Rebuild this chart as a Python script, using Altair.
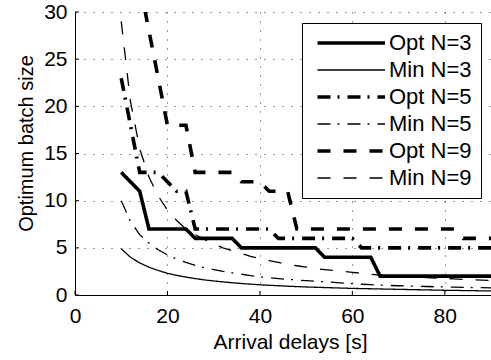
import altair as alt
import pandas as pd

# x positions (arrival delay, s)
delays = [10, 12, 14, 16, 18, 20, 22, 24, 26, 28, 30, 32, 34, 36, 38, 40, 42, 44, 46, 48, 50,
          52, 54, 56, 58, 60, 62, 64, 66, 68, 70, 72, 74, 76, 78, 80, 82, 84, 86, 88, 90]
delays_opt9 = delays[2:]

opt_n3 = [13, 12, 11, 7, 7, 7, 7, 7, 6, 6, 6, 6, 6, 5, 5, 5, 5, 5, 5, 5, 5,
          5, 4, 4, 4, 4, 4, 4, 2, 2, 2, 2, 2, 2, 2, 2, 2, 2, 2, 2, 2]
min_n3 = [4.9, 4.0, 3.4, 2.95, 2.6, 2.3, 2.08, 1.9, 1.74, 1.6, 1.49, 1.39, 1.3, 1.22, 1.15, 1.08,
          1.03, 0.98, 0.93, 0.89, 0.85, 0.82, 0.79, 0.76, 0.73, 0.7, 0.68, 0.66, 0.64, 0.62, 0.6,
          0.58, 0.56, 0.54, 0.52, 0.5, 0.49, 0.47, 0.46, 0.44, 0.43]
opt_n5 = [23, 18, 13, 13, 13, 12, 11, 11, 7, 7, 7, 7, 7, 7, 7, 7, 7, 6, 6, 6, 6,
          6, 6, 6, 6, 6, 5, 5, 5, 5, 5, 5, 5, 5, 5, 5, 5, 5, 5, 5, 5]
min_n5 = [10.0, 7.8, 6.4, 5.5, 4.8, 4.25, 3.8, 3.45, 3.15, 2.9, 2.7, 2.5, 2.35, 2.2, 2.05, 1.93,
          1.83, 1.74, 1.66, 1.59, 1.52, 1.46, 1.4, 1.34, 1.26, 1.2, 1.14, 1.09, 1.05, 1.01, 0.98,
          0.95, 0.92, 0.9, 0.87, 0.85, 0.83, 0.81, 0.79, 0.78, 0.76]
opt_n9 = [33, 28, 23, 18, 18, 18, 13, 13, 13, 13, 13, 12, 12, 12, 11, 11, 11, 7, 7,
          7, 7, 7, 7, 7, 7, 7, 7, 7, 7, 7, 7, 7, 7, 7, 7, 6, 6, 6, 6]
min_n9 = [29, 20.5, 15.5, 12.5, 10.5, 9.0, 7.9, 7.0, 6.4, 5.9, 5.4, 5.0, 4.7, 4.4, 4.1, 3.85,
          3.65, 3.45, 3.25, 3.1, 2.95, 2.8, 2.7, 2.6, 2.5, 2.4, 2.3, 2.2, 2.1, 2.05, 2.0, 1.95,
          1.9, 1.85, 1.8, 1.75, 1.7, 1.65, 1.62, 1.58, 1.55]

series_names = ["Opt N=3", "Min N=3", "Opt N=5", "Min N=5", "Opt N=9", "Min N=9"]
series_x = [delays, delays, delays, delays, delays_opt9, delays]
series_y = [opt_n3, min_n3, opt_n5, min_n5, opt_n9, min_n9]

x_ticks = [0, 20, 40, 60, 80]
y_ticks = [0, 5, 10, 15, 20, 25, 30]

dash_styles = [[1, 0], [1, 0], [13, 7, 2, 8], [13, 7, 2, 8], [13, 13], [13, 13]]
stroke_widths = [3.6, 1.3, 3.6, 1.3, 3.6, 1.3]

rows = []
for name, xs, ys in zip(series_names, series_x, series_y):
    for xv, yv in zip(xs, ys):
        rows.append({"series": name, "delay": xv, "size": yv})
df = pd.DataFrame(rows)

FONT = "Liberation Sans"
xscale = alt.Scale(domain=[0, 90], nice=False, zero=False)
yscale = alt.Scale(domain=[0, 30], nice=False, zero=False)
xaxis = alt.Axis(values=x_ticks, title="Arrival delays [s]", labelPadding=10,
                 titleBaseline="alphabetic", titleY=53, titleX=215)
yaxis = alt.Axis(values=y_ticks, title="Optimum batch size", labelPadding=8,
                 titleX=-39, titleY=131, titleFontSize=20)

lines = alt.Chart(df).mark_line(clip=True, color="black").encode(
    x=alt.X("delay:Q", scale=xscale, axis=xaxis),
    y=alt.Y("size:Q", scale=yscale, axis=yaxis),
    strokeDash=alt.StrokeDash("series:N", sort=series_names,
                              scale=alt.Scale(domain=series_names, range=dash_styles),
                              legend=alt.Legend(title=None)),
    strokeWidth=alt.StrokeWidth("series:N", sort=series_names,
                                scale=alt.Scale(type="ordinal", domain=series_names, range=stroke_widths),
                                legend=alt.Legend(title=None)),
)

xt = alt.Chart(pd.DataFrame({"delay": x_ticks})).mark_rule(color="black", strokeWidth=1).encode(
    x=alt.X("delay:Q", scale=xscale, axis=xaxis), y=alt.value(283), y2=alt.value(279))
yt = alt.Chart(pd.DataFrame({"size": y_ticks})).mark_rule(color="black", strokeWidth=1).encode(
    y=alt.Y("size:Q", scale=yscale, axis=yaxis), x=alt.value(0), x2=alt.value(4))

chart = alt.layer(lines, xt, yt).properties(
    width=416, height=283,
    autosize=alt.AutoSizeParams(type="none"),
    padding={"left": 75, "top": 12, "right": 0, "bottom": 65},
    background="white",
).configure_view(stroke=None).configure_axis(
    labelFont=FONT, labelFontSize=21, labelColor="black", labelFlush=False,
    titleFont=FONT, titleFontSize=21, titleColor="black", titleFontWeight="normal",
    domainColor="black", domainWidth=1, ticks=False,
    grid=True, gridColor="black", gridDash=[1, 8], gridWidth=1, gridOpacity=0.8,
).configure_legend(
    orient="none", legendX=227, legendY=11,
    strokeColor="black", fillColor="white", padding=9, cornerRadius=0,
    symbolType="M-0.5,0H7", symbolSize=324, symbolStrokeColor="black",
    labelFont=FONT, labelFontSize=22, labelColor="black", labelOffset=56,
    rowPadding=5,
)

chart.save("out.html", embed_options={"renderer": "svg", "actions": False})
